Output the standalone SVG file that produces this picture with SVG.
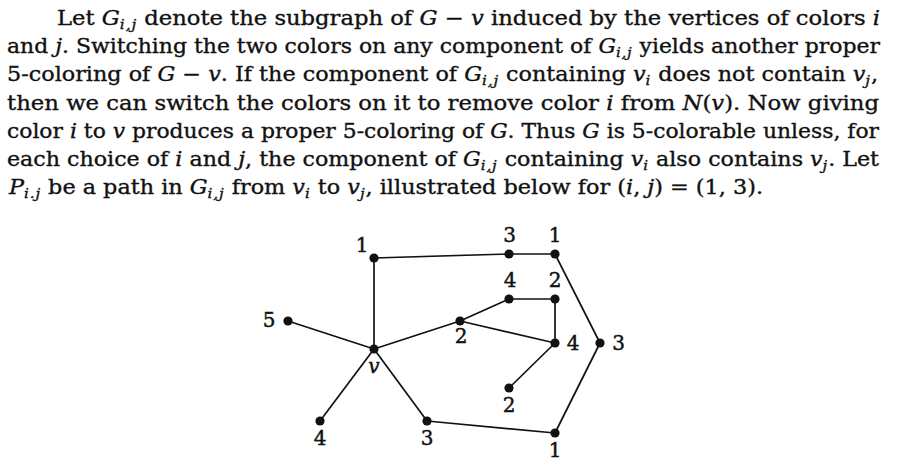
<svg xmlns="http://www.w3.org/2000/svg" width="899" height="462" viewBox="0 0 899 462">
<style>
.t{font-family:"DejaVu Serif","Liberation Serif",serif;font-size:20px;fill:#111;stroke:#111;stroke-width:0.35}
.i{font-style:italic}
.s{font-style:italic;font-size:13.5px;letter-spacing:0.8px}
.lb{font-family:"DejaVu Serif","Liberation Serif",serif;font-size:20px;fill:#111;stroke:#111;stroke-width:0.45;text-anchor:middle}
.e{stroke:#111;stroke-width:1.7;fill:none;stroke-linecap:round}
.n{fill:#111}
</style>
<rect width="899" height="462" fill="#fff"/>
<g id="paragraph">
<text class="t" x="57" y="25" textLength="823" lengthAdjust="spacingAndGlyphs">Let <tspan class="i">G</tspan><tspan class="s" dy="4">i,j</tspan><tspan dy="-4"> denote the subgraph of </tspan><tspan class="i">G</tspan> − <tspan class="i">v</tspan> induced by the vertices of colors <tspan class="i">i</tspan></text>
<text class="t" x="7" y="53.2" textLength="873" lengthAdjust="spacingAndGlyphs">and <tspan class="i">j</tspan>. Switching the two colors on any component of <tspan class="i">G</tspan><tspan class="s" dy="4">i,j</tspan><tspan dy="-4"> yields another proper</tspan></text>
<text class="t" x="7" y="81.4" textLength="871" lengthAdjust="spacingAndGlyphs">5-coloring of <tspan class="i">G</tspan> − <tspan class="i">v</tspan>. If the component of <tspan class="i">G</tspan><tspan class="s" dy="4">i,j</tspan><tspan dy="-4"> containing </tspan><tspan class="i">v</tspan><tspan class="s" dy="4">i</tspan><tspan dy="-4"> does not contain </tspan><tspan class="i">v</tspan><tspan class="s" dy="4">j</tspan><tspan dy="-4">,</tspan></text>
<text class="t" x="7" y="109.6" textLength="872" lengthAdjust="spacingAndGlyphs">then we can switch the colors on it to remove color <tspan class="i">i</tspan> from <tspan class="i">N</tspan>(<tspan class="i">v</tspan>). Now giving</text>
<text class="t" x="7" y="137.8" textLength="872" lengthAdjust="spacingAndGlyphs">color <tspan class="i">i</tspan> to <tspan class="i">v</tspan> produces a proper 5-coloring of <tspan class="i">G</tspan>. Thus <tspan class="i">G</tspan> is 5-colorable unless, for</text>
<text class="t" x="7" y="166" textLength="872" lengthAdjust="spacingAndGlyphs">each choice of <tspan class="i">i</tspan> and <tspan class="i">j</tspan>, the component of <tspan class="i">G</tspan><tspan class="s" dy="4">i,j</tspan><tspan dy="-4"> containing </tspan><tspan class="i">v</tspan><tspan class="s" dy="4">i</tspan><tspan dy="-4"> also contains </tspan><tspan class="i">v</tspan><tspan class="s" dy="4">j</tspan><tspan dy="-4">. Let</tspan></text>
<text class="t" x="9" y="194.2" textLength="754" lengthAdjust="spacingAndGlyphs"><tspan class="i">P</tspan><tspan class="s" dy="4">i.j</tspan><tspan dy="-4"> be a path in </tspan><tspan class="i">G</tspan><tspan class="s" dy="4">i,j</tspan><tspan dy="-4"> from </tspan><tspan class="i">v</tspan><tspan class="s" dy="4">i</tspan><tspan dy="-4"> to </tspan><tspan class="i">v</tspan><tspan class="s" dy="4">j</tspan><tspan dy="-4">, illustrated below for (</tspan><tspan class="i">i</tspan>, <tspan class="i">j</tspan>) = (1, 3).</text>
</g>
<g id="connectors">
<line class="e" x1="374" y1="349" x2="374" y2="258"/>
<line class="e" x1="374" y1="258" x2="509" y2="254"/>
<line class="e" x1="509" y1="254" x2="555" y2="254"/>
<line class="e" x1="555" y1="254" x2="600" y2="343"/>
<line class="e" x1="600" y1="343" x2="555" y2="433"/>
<line class="e" x1="555" y1="433" x2="427" y2="421"/>
<line class="e" x1="427" y1="421" x2="374" y2="349"/>
<line class="e" x1="374" y1="349" x2="320" y2="421"/>
<line class="e" x1="374" y1="349" x2="288" y2="321"/>
<line class="e" x1="374" y1="349" x2="460" y2="321"/>
<line class="e" x1="460" y1="321" x2="509" y2="299"/>
<line class="e" x1="509" y1="299" x2="555" y2="299"/>
<line class="e" x1="555" y1="299" x2="555" y2="343"/>
<line class="e" x1="460" y1="321" x2="555" y2="343"/>
<line class="e" x1="555" y1="343" x2="509" y2="388"/>
</g>
<g id="node-v"><circle class="n" cx="374" cy="349" r="4.6"/><text class="lb i" x="374" y="373">v</text></g>
<g id="node-1a"><circle class="n" cx="374" cy="258" r="4.6"/><text class="lb" x="362" y="252">1</text></g>
<g id="node-3a"><circle class="n" cx="509" cy="254" r="4.6"/><text class="lb" x="509.5" y="242">3</text></g>
<g id="node-1b"><circle class="n" cx="555" cy="254" r="4.6"/><text class="lb" x="555" y="242">1</text></g>
<g id="node-4a"><circle class="n" cx="509" cy="299" r="4.6"/><text class="lb" x="510" y="287">4</text></g>
<g id="node-2a"><circle class="n" cx="555" cy="299" r="4.6"/><text class="lb" x="555" y="287">2</text></g>
<g id="node-2b"><circle class="n" cx="460" cy="321" r="4.6"/><text class="lb" x="461" y="343">2</text></g>
<g id="node-4b"><circle class="n" cx="555" cy="343" r="4.6"/><text class="lb" x="573" y="350">4</text></g>
<g id="node-3b"><circle class="n" cx="600" cy="343" r="4.6"/><text class="lb" x="618.5" y="350">3</text></g>
<g id="node-2c"><circle class="n" cx="509" cy="388" r="4.6"/><text class="lb" x="509" y="412">2</text></g>
<g id="node-1c"><circle class="n" cx="555" cy="433" r="4.6"/><text class="lb" x="555" y="457">1</text></g>
<g id="node-3c"><circle class="n" cx="427" cy="421" r="4.6"/><text class="lb" x="427" y="445">3</text></g>
<g id="node-4c"><circle class="n" cx="320" cy="421" r="4.6"/><text class="lb" x="320" y="445">4</text></g>
<g id="node-5"><circle class="n" cx="288" cy="321" r="4.6"/><text class="lb" x="269" y="327">5</text></g>
</svg>
